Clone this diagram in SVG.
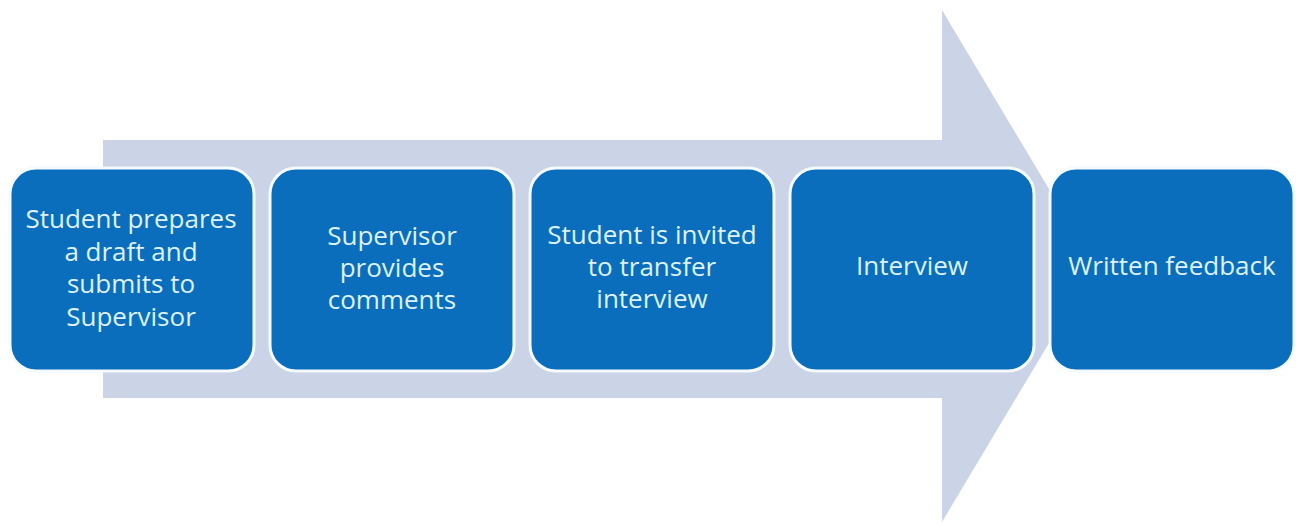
<svg xmlns="http://www.w3.org/2000/svg" width="1303" height="524" viewBox="0 0 1303 524">
<style>
.box{fill:#0A6EBC;stroke:#F4FAFD;stroke-width:3}
.t{font-family:"Open Sans",Lato,sans-serif;font-size:26px;fill:#DDF2FA;text-anchor:middle}
</style>
<rect width="1303" height="524" fill="#FFFFFF"/>
<g id="connectors">
<polygon id="big-arrow" points="103,140 942,140 942,10 1095,266 942,522 942,398 103,398" fill="#CBD3E6"/>
</g>
<g id="node1">
<rect class="box" x="10" y="168" width="244" height="203" rx="26"/>
<text class="t" x="131" y="228">Student prepares</text>
<text class="t" x="131" y="261">a draft and</text>
<text class="t" x="131" y="293">submits to</text>
<text class="t" x="131" y="326">Supervisor</text>
</g>
<g id="node2">
<rect class="box" x="270" y="168" width="244" height="203" rx="26"/>
<text class="t" x="392" y="245">Supervisor</text>
<text class="t" x="392" y="277">provides</text>
<text class="t" x="392" y="309">comments</text>
</g>
<g id="node3">
<rect class="box" x="530" y="168" width="244" height="203" rx="26"/>
<text class="t" x="652" y="244">Student is invited</text>
<text class="t" x="652" y="276">to transfer</text>
<text class="t" x="652" y="308">interview</text>
</g>
<g id="node4">
<rect class="box" x="790" y="168" width="244" height="203" rx="26"/>
<text class="t" x="912" y="275">Interview</text>
</g>
<g id="node5">
<rect class="box" x="1050" y="168" width="244" height="203" rx="26"/>
<text class="t" x="1172" y="275">Written feedback</text>
</g>
</svg>
